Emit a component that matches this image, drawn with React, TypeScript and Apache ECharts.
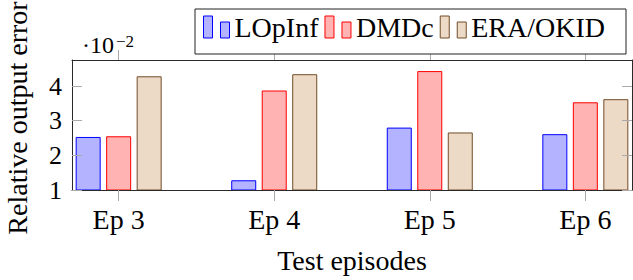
import React, { useEffect, useRef } from 'react';
import * as echarts from 'echarts';

const categories = ['Ep 3', 'Ep 4', 'Ep 5', 'Ep 6'];
const episodes = [3, 4, 5, 6];
const seriesNames = ['LOpInf', 'DMDc', 'ERA/OKID'];
const lopinf = [2.53, 1.28, 2.8, 2.61];
const dmdc = [2.55, 3.87, 4.43, 3.53];
const eraOkid = [4.28, 4.34, 2.66, 3.62];
const yTicks = [1, 2, 3, 4];
const yLabel = 'Relative output error';
const xLabel = 'Test episodes';

const FONT = 'Liberation Serif';
const fills = ['#b3b3ff', '#ffb3b3', '#ecd9c6'];
const strokes = ['#0000ff', '#ff0000', '#734d26'];
const TICK = '#aaaaaa';
const FRAME = '#2a2a2a';
const legendIcon = 'path://M0,0H9V22H0Z M17,6H26V22H17Z';

export default function App() {
  const ref = useRef<HTMLDivElement>(null);
  useEffect(() => {
    if (!ref.current) return;
    const chart = echarts.init(ref.current, undefined, { renderer: 'svg' });
    const values = [lopinf, dmdc, eraOkid];
    const xCommon = {
      type: 'value' as const,
      min: 2.7,
      max: 6.3,
      splitLine: { show: false },
      z: 10,
      axisLine: { show: true, onZero: false, lineStyle: { color: FRAME, width: 1 } },
    };
    const yCommon = {
      type: 'value' as const,
      min: 1,
      max: 4.75,
      interval: 1,
      splitLine: { show: false },
      z: 10,
      axisLine: { show: true, onZero: false, lineStyle: { color: FRAME, width: 1 } },
    };
    chart.setOption({
      animation: false,
      textStyle: { fontFamily: FONT },
      grid: { left: 72, top: 60, width: 560, height: 130, containLabel: false },
      legend: {
        left: 195,
        top: 9,
        selectedMode: false,
        data: seriesNames.map((n, i) => ({
          name: n,
          icon: legendIcon,
          itemStyle: { color: fills[i], borderColor: strokes[i], borderWidth: 1 },
        })),
        itemWidth: 26,
        itemHeight: 22,
        itemGap: 6,
        padding: [4, 21, 13, 8],
        borderColor: '#222',
        borderWidth: 1,
        backgroundColor: '#fff',
        textStyle: { fontSize: 28, fontFamily: FONT, color: '#000' },
        z: 20,
      },
      xAxis: [
        {
          ...xCommon,
          position: 'bottom',
          axisTick: { show: true, customValues: episodes, length: 11, lineStyle: { color: TICK } },
          axisLabel: {
            customValues: episodes,
            formatter: (v: number) => categories[episodes.indexOf(v)],
            fontSize: 28,
            fontFamily: FONT,
            color: '#000',
            margin: 15,
          },
          name: xLabel,
          nameLocation: 'middle',
          nameGap: 56,
          nameTextStyle: { fontSize: 28, fontFamily: FONT, color: '#000' },
        },
        {
          ...xCommon,
          position: 'top',
          axisTick: { show: true, customValues: episodes, length: 10, lineStyle: { color: TICK } },
          axisLabel: { show: false },
        },
      ],
      yAxis: [
        {
          ...yCommon,
          position: 'left',
          axisTick: { show: true, inside: true, customValues: yTicks, length: 10, lineStyle: { color: TICK } },
          axisLabel: {
            customValues: yTicks,
            fontSize: 26,
            fontFamily: FONT,
            color: '#000',
            margin: 10,
          },
        },
        {
          ...yCommon,
          position: 'right',
          axisTick: { show: true, inside: true, customValues: yTicks, length: 10, lineStyle: { color: TICK } },
          axisLabel: { show: false },
        },
      ],
      graphic: [
        {
          type: 'text',
          x: 17.5,
          y: 118,
          rotation: Math.PI / 2,
          style: {
            text: yLabel,
            fontSize: 28,
            fontFamily: FONT,
            fill: '#000',
            align: 'center',
            verticalAlign: 'middle',
          },
        },
        {
          type: 'text',
          x: 82,
          y: 45,
          style: { text: '·10', fontSize: 24, fontFamily: FONT, fill: '#000', align: 'left', verticalAlign: 'middle' },
        },
        {
          type: 'text',
          x: 116,
          y: 41,
          style: { text: '−2', fontSize: 17, fontFamily: FONT, fill: '#000', align: 'left', verticalAlign: 'middle' },
        },
      ],
      series: values.map((vals, i) => ({
        type: 'bar',
        name: seriesNames[i],
        xAxisIndex: 0,
        yAxisIndex: 0,
        data: vals.map((v, j) => [episodes[j], v]),
        barWidth: 25,
        barGap: '22%',
        clip: true,
        itemStyle: { color: fills[i], borderColor: strokes[i], borderWidth: 1 },
      })),
    });
    return () => chart.dispose();
  }, []);
  return (
    <div
      ref={ref}
      style={{ position: 'fixed', left: 0, top: 0, width: 633, height: 280, background: '#fff' }}
    />
  );
}
